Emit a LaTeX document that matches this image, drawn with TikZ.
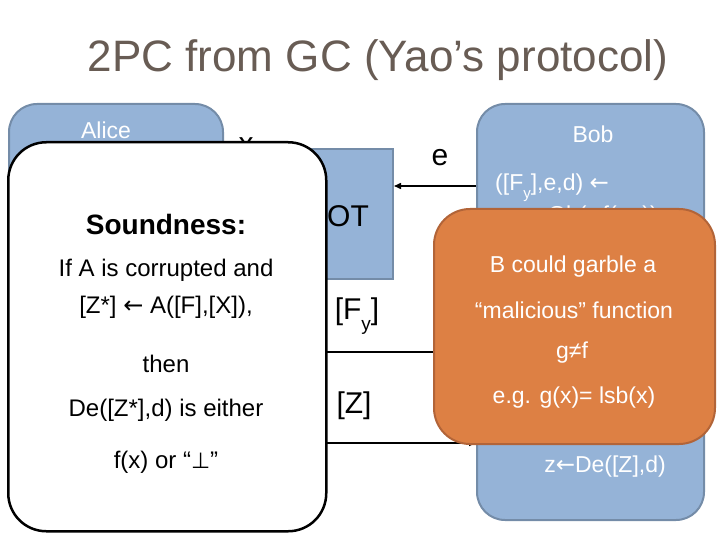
\documentclass[tikz,border=0pt]{standalone}
\usepackage{fontspec}
\setmainfont{Liberation Sans}
\newfontfamily\djv{DejaVu Sans}
\usetikzlibrary{arrows.meta}
\definecolor{titlegray}{RGB}{104,92,84}
\definecolor{boxblue}{RGB}{149,179,215}
\definecolor{boxblueedge}{RGB}{116,140,168}
\definecolor{orangefill}{RGB}{221,128,68}
\definecolor{orangeedge}{RGB}{178,100,56}
\newcommand{\fs}[1]{\fontsize{#1}{#1}\selectfont}
\newcommand{\subsc}[2]{\raisebox{-0.35em}{\fs{#1}#2}}
\newcommand{\larr}{{\djv ←}}
\tikzset{
  party/.style={draw=boxblueedge, fill=boxblue, line width=2pt, rounded corners=28pt, anchor=north west, inner sep=0pt},
  otbox/.style={draw=boxblueedge, fill=boxblue, line width=2pt, anchor=north west, inner sep=0pt},
  soundbox/.style={draw=black, fill=white, line width=2.5pt, rounded corners=38pt, anchor=north west, inner sep=0pt},
  orangebox/.style={draw=orangeedge, fill=orangefill, line width=2pt, rounded corners=36pt, anchor=north west, inner sep=0pt},
  wtxt/.style={text=white, inner sep=0pt, font=\fs{23}},
  btxt/.style={text=black, inner sep=0pt, font=\fs{30}},
  stxt/.style={text=black, inner sep=0pt, font=\fs{24}},
  otxt/.style={text=white, inner sep=0pt, font=\fs{23}},
  msg/.style={line width=1.5pt, -{Triangle[length=7pt,width=6pt]}}
}
\begin{document}
\begin{tikzpicture}[x=1pt,y=-1pt]
\useasboundingbox (0,0) rectangle (720,540);
% title
\node[text=titlegray, font=\fs{44}, inner sep=0pt] (title) at (378,60) {2PC from GC (Yao’s protocol)};
% Alice
\node[party, minimum width=214pt, minimum height=320pt] (Alice) at (8,103) {};
\node[wtxt] (alicelbl) at (106,130) {Alice};
% x label
\node[btxt] (xlbl) at (246,146) {x};
% OT box
\node[otbox, minimum width=87pt, minimum height=130pt] (OT) at (305,148) {};
\node[btxt] (otlbl) at (348,216) {OT};
% Bob
\node[party, minimum width=227pt, minimum height=416pt] (Bob) at (476,103) {};
\node[wtxt] (boblbl) at (593,134) {Bob};
\node[wtxt, anchor=west] (bobl1) at (495,188) {([F\subsc{15}{y}],e,d) \larr};
\node[wtxt, anchor=west] (bobl2) at (548,217) {Gb(y,f(x,·))};
\node[wtxt] (bobz) at (605,467) {z\larr De([Z],d)};
% messages
\node[btxt] (elbl) at (440,158) {e};
\draw[msg] (Bob.west |- 0,186) -- (OT.east |- 0,186);
\node[btxt] (fylbl) at (357,316) {[F\subsc{19}{y}]};
\coordinate (fyline) at (0,352);
\draw[msg] (Bob.west |- fyline) -- (Alice.east |- fyline);
\node[btxt] (zlbl) at (354,406) {[Z]};
\coordinate (zline) at (0,443);
\draw[msg] (Alice.east |- zline) -- (Bob.west |- zline);
% soundness box
\node[soundbox, minimum width=318pt, minimum height=389pt] (Sound) at (7,141) {};
\node[stxt, font=\fs{28}\bfseries] (s0) at (166,224) {Soundness:};
\node[stxt] (s1) at (166,270) {If A is corrupted and};
\node[stxt] (s2) at (166,307) {[Z*] \larr\ A([F],[X]),};
\node[stxt] (s3) at (166,364) {then};
\node[stxt] (s4) at (166,410) {De([Z*],d) is either};
\node[stxt] (s5) at (166,462) {f(x) or “{\djv\fs{22}⊥}”};
% orange box
\node[orangebox, minimum width=281pt, minimum height=235pt] (Mal) at (433,208) {};
\node[otxt] (m1) at (573,267) {B could garble a};
\node[otxt] (m2) at (574,310) {“malicious” function};
\node[otxt] (m3) at (572,353) {g≠f};
\node[otxt] (m4) at (574,398) {e.g. g(x)= lsb(x)};
\end{tikzpicture}
\end{document}
